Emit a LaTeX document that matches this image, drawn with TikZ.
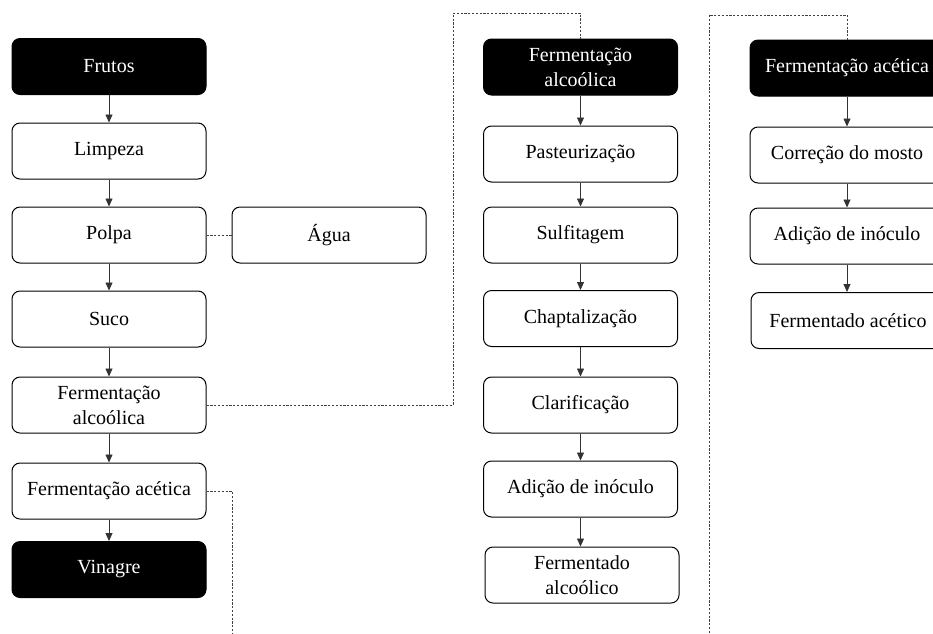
\documentclass[tikz,border=0pt]{standalone}
\usepackage{fontspec}
\setmainfont{Liberation Serif}
\usetikzlibrary{arrows.meta}
\begin{document}
\begin{tikzpicture}[x=1pt,y=-1pt,
  box/.style={draw=black,line width=1pt,rounded corners=8pt,minimum width=194pt,minimum height=56pt,
    align=center,font=\fontsize{20}{25}\selectfont,inner sep=2pt},
  darkbox/.style={box,fill=black,text=white},
  flow/.style={draw=black!80,line width=0.8pt,-{Triangle[width=7pt,length=8pt]}},
  link/.style={draw=black!75,line width=1pt,dash pattern=on 2.2pt off 1.6pt}]
\useasboundingbox (0,0) rectangle (933,633);
\begin{scope}
\clip (0,0) rectangle (933,633);
% left column
\node[darkbox] (a1) at (109,66.5) {Frutos};
\node[box] (a2) at (109,151) {Limpeza};
\node[box] (a3) at (109,235) {Polpa};
\node[box] (ag) at (329,235) {Água};
\node[box] (a4) at (109,319) {Suco};
\node[box] (a5) at (109,405) {Fermentação\\alcoólica};
\node[box] (a6) at (109,491) {Fermentação acética};
\node[darkbox] (a7) at (109,569.5) {Vinagre};
% middle column
\node[darkbox] (b1) at (580.5,67) {Fermentação\\alcoólica};
\node[box] (b2) at (580.5,154) {Pasteurização};
\node[box] (b3) at (580.5,235) {Sulfitagem};
\node[box] (b4) at (580.5,318.5) {Chaptalização};
\node[box] (b5) at (580.5,405) {Clarificação};
\node[box] (b6) at (580.5,489) {Adição de inóculo};
\node[box] (b7) at (582,575) {Fermentado\\alcoólico};
% right column
\node[darkbox] (c1) at (847,68) {Fermentação acética};
\node[box] (c2) at (847,155) {Correção do mosto};
\node[box] (c3) at (847,236) {Adição de inóculo};
\node[box] (c4) at (848,320.5) {Fermentado acético};
% arrows
\draw[flow] (a1) -- (a2);
\draw[flow] (a2) -- (a3);
\draw[flow] (a3) -- (a4);
\draw[flow] (a4) -- (a5);
\draw[flow] (a5) -- (a6);
\draw[flow] (a6) -- (a7);
\draw[flow] (b1) -- (b2);
\draw[flow] (b2) -- (b3);
\draw[flow] (b3) -- (b4);
\draw[flow] (b4) -- (b5);
\draw[flow] (b5) -- (b6);
\draw[flow] (b6.south) -- (b7.north -| b6.south);
\draw[flow] (c1) -- (c2);
\draw[flow] (c2) -- (c3);
\draw[flow] (c3.south) -- (c4.north -| c3.south);
% dashed links
\coordinate (k1) at (453,13);
\coordinate (k2) at (232,633);
\coordinate (k3) at (709,633);
\coordinate (k4) at (847,15);
\draw[link] (a3.east) -- (ag.west);
\draw[link] (a5.east) -| (k1) -| (b1.north);
\draw[link] (a6.east) -| (k2);
\draw[link] (k3) |- (k4) -- (c1.north);
\end{scope}
\end{tikzpicture}
\end{document}
